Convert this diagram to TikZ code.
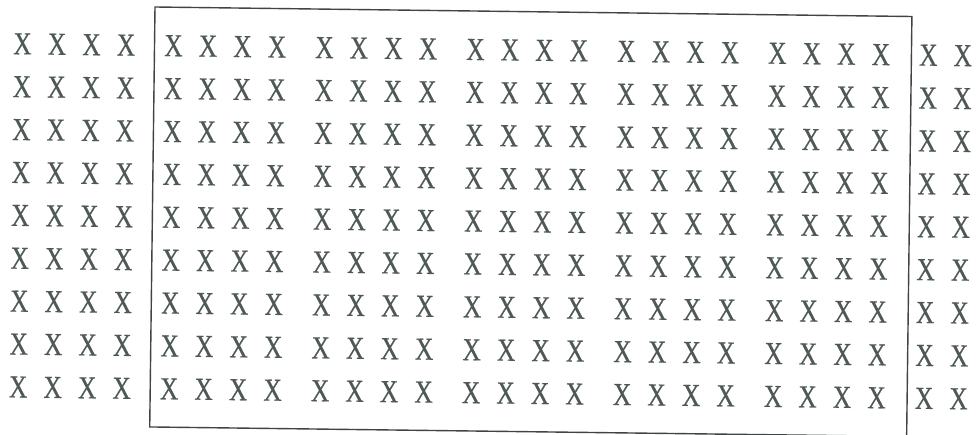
\documentclass[tikz,border=0pt]{standalone}
\usepackage{fontspec}
\setmainfont{Liberation Serif}
\newfontfamily\xfont{Liberation Serif}[FakeBold=0.5]
\begin{document}
\begin{tikzpicture}[x=1pt,y=1pt,
  xmark/.style={inner sep=0pt, text=xcol, font=\xfont\fontsize{32}{32}\selectfont, xscale=0.79, transform shape},
  frame/.style={draw=framecol, line width=1.4pt}]
\definecolor{xcol}{HTML}{4E5856}
\definecolor{framecol}{HTML}{404444}
\useasboundingbox (0,0) rectangle (976,434);
\clip (0,0) rectangle (976,434);
\fill[white] (0,0) rectangle (976,434);
\begin{scope}[rotate around={-0.72:(155,427)}]
  \draw[frame] (155,427) rectangle (912,7);
  \foreach \r in {0,...,8}{
    \foreach \g in {0,...,5}{
      \foreach \k in {0,...,3}{
        \node[xmark] (x\r-\g-\k) at ({23+151*\g+34.5*\k},{434-(45.5+42.9*\r)}) {X};
      }
    }
    \foreach \k in {0,1}{
      \node[xmark] (x\r-6-\k) at ({23+151*6+34.5*\k},{434-(45.5+42.9*\r)}) {X};
    }
  }
\end{scope}
\end{tikzpicture}
\end{document}
